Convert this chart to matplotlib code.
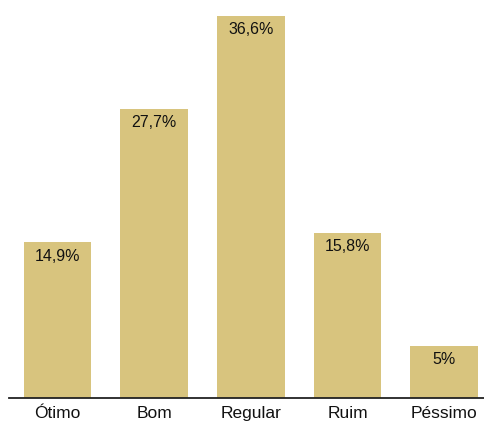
import matplotlib.pyplot as plt
import numpy as np

plt.rcParams['font.family'] = ['Liberation Sans', 'DejaVu Sans']

# dados
categorias = ["Ótimo", "Bom", "Regular", "Ruim", "Péssimo"]
valores = [14.9, 27.7, 36.6, 15.8, 5]
rotulos = ["14,9%", "27,7%", "36,6%", "15,8%", "5%"]

W, H = 484, 425
fig = plt.figure(figsize=(W / 100, H / 100), dpi=100)
ax = fig.add_axes([9 / W, 27 / H, (W - 9) / W, 382 / H * 38.13 / 36.6])

x = np.arange(len(categorias))
ax.bar(x, valores, width=0.70, color="#D8C47E")
for xi, v, r in zip(x, valores, rotulos):
    ax.text(xi, v - 0.6, r, ha="center", va="top", fontsize=11.5, color="#111111")

ax.set_xlim(-0.5, 4.41)
ax.set_ylim(0, 38.13)
ax.set_xticks(x)
ax.set_xticklabels(categorias, fontsize=12.5, color="#111111")
ax.tick_params(axis="x", length=0, pad=6)
ax.set_yticks([])
for s in ["top", "right", "left"]:
    ax.spines[s].set_visible(False)
ax.spines["bottom"].set_linewidth(1.3)
ax.spines["bottom"].set_color("#222222")

fig.savefig("out.png", dpi=100)
